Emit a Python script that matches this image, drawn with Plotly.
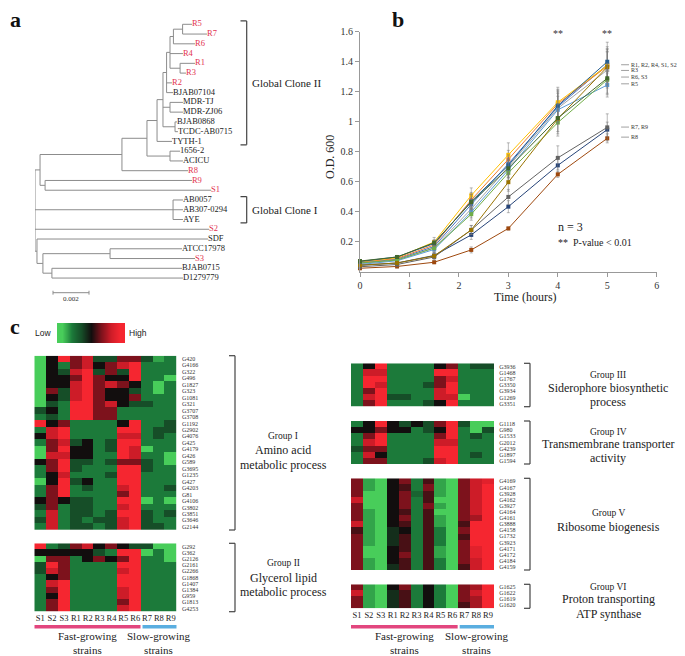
import plotly.graph_objects as go

# The page body has an 8 px margin: all positions below are given in reference pixels
# and converted into the 677x648 figure that starts at (8, 8).
OFF = 8
W, H = 685 - OFF, 656 - OFF
def fx(px): return (px - OFF) / W
def fy(py): return 1 - (py - OFF) / H

SERIF = "Liberation Serif, Times New Roman, serif"
SANS = "Liberation Sans, Arial, sans-serif"
RED = "#e2334f"

# ---------------- Panel a : phylogenetic tree ----------------
leaf_names = ["R5", "R7", "R6", "R4", "R1", "R3", "R2", "BJAB07104", "MDR-TJ", "MDR-ZJ06",
              "BJAB0868", "TCDC-AB0715", "TYTH-1", "1656-2", "ACICU", "R8", "R9", "S1",
              "AB0057", "AB307-0294", "AYE", "S2", "SDF", "ATCC17978", "S3", "BJAB0715", "D1279779"]
internal_names = ["root", "nA", "nB", "nC", "nH", "nI", "nJ", "nK", "nL", "nM", "nP", "nT", "nQ",
                  "nN", "nO", "nGC1", "nD", "nE", "nF", "nG"]
internal_parents = [None, "root", "nA", "nA", "nB", "nH", "nH", "nI", "nK", "nL", "nM", "nP", "nM",
                    "nK", "nK", "root", "root", "nD", "nE", "nE"]
internal_depths = [0.0, 0.00028, 0.00483, 0.00056, 0.00622, 0.00678, 0.0075, 0.00711, 0.00731,
                   0.0075, 0.00769, 0.0082, 0.00806, 0.0075, 0.00778, 0.00767, 0.00011, 0.00044,
                   0.00417, 0.00094]
leaf_parents = ["nT", "nT", "nP", "nM", "nQ", "nQ", "nL", "nL", "nN", "nN", "nO", "nO", "nI", "nJ",
                "nJ", "nB", "nC", "nC", "nGC1", "nGC1", "nGC1", "root", "nD", "nF", "nF", "nG", "nG"]
leaf_depths = [0.00872, 0.00956, 0.00889, 0.00822, 0.00889, 0.00839, 0.00761, 0.00767, 0.00822,
               0.00822, 0.00789, 0.00794, 0.00761, 0.00806, 0.00822, 0.0085, 0.00872, 0.00978,
               0.00822, 0.00822, 0.00822, 0.00967, 0.00961, 0.00817, 0.00889, 0.00817, 0.00822]
clade_names = ["Global Clone II", "Global Clone I"]
clade_first = ["R5", "AB0057"]
clade_last = ["TYTH-1", "AYE"]
scale_bar_length = 0.002

# ---------------- Panel b : growth curves ----------------
time_h = [0, 0.75, 1.5, 2.25, 3, 4, 5]
strains = ["R1", "R2", "R3", "R4", "R5", "R6", "R7", "R8", "R9", "S1", "S2", "S3"]
strain_colors = ["#4472C4", "#ED7D31", "#A5A5A5", "#FFC000", "#5B9BD5", "#70AD47",
                 "#264478", "#9E480E", "#636363", "#997300", "#255E91", "#43682B"]
od_values = [
    [0.060, 0.085, 0.170, 0.450, 0.720, 1.100, 1.380],
    [0.065, 0.090, 0.180, 0.480, 0.750, 1.120, 1.370],
    [0.055, 0.080, 0.160, 0.420, 0.700, 1.090, 1.345],
    [0.070, 0.095, 0.200, 0.510, 0.780, 1.130, 1.375],
    [0.050, 0.075, 0.150, 0.400, 0.680, 1.080, 1.245],
    [0.060, 0.080, 0.160, 0.385, 0.660, 0.995, 1.280],
    [0.045, 0.060, 0.110, 0.247, 0.435, 0.710, 0.948],
    [0.025, 0.037, 0.065, 0.147, 0.290, 0.650, 0.890],
    [0.035, 0.050, 0.100, 0.280, 0.500, 0.760, 0.963],
    [0.045, 0.060, 0.107, 0.280, 0.598, 1.020, 1.365],
    [0.070, 0.100, 0.190, 0.470, 0.710, 1.107, 1.400],
    [0.073, 0.100, 0.195, 0.465, 0.690, 1.025, 1.290],
]
od_err = [
    [0.01, 0.01, 0.02, 0.05, 0.07, 0.10, 0.12],
    [0.01, 0.01, 0.02, 0.05, 0.06, 0.09, 0.10],
    [0.01, 0.01, 0.02, 0.04, 0.07, 0.10, 0.12],
    [0.01, 0.01, 0.03, 0.05, 0.08, 0.10, 0.11],
    [0.01, 0.01, 0.02, 0.04, 0.06, 0.09, 0.08],
    [0.01, 0.01, 0.02, 0.04, 0.06, 0.09, 0.10],
    [0.01, 0.01, 0.02, 0.03, 0.04, 0.05, 0.05],
    [0.01, 0.01, 0.01, 0.02, 0.01, 0.02, 0.03],
    [0.01, 0.01, 0.02, 0.03, 0.05, 0.08, 0.09],
    [0.01, 0.01, 0.02, 0.03, 0.06, 0.10, 0.12],
    [0.01, 0.01, 0.02, 0.05, 0.07, 0.11, 0.13],
    [0.01, 0.01, 0.02, 0.05, 0.06, 0.09, 0.10],
]
end_labels = ["R1, R2, R4, S1, S2", "R3", "R6, S3", "R5", "R7, R9", "R8"]
end_label_y = [1.38, 1.342, 1.298, 1.253, 0.965, 0.898]
signif_times = [4, 5]

# ---------------- Panel c : heatmaps ----------------
heat_strains = ["S1", "S2", "S3", "R1", "R2", "R3", "R4", "R5", "R6", "R7", "R8", "R9"]
grp1_genes = ["G420", "G4166", "G322", "G496", "G1827", "G323", "G1081", "G321", "G3707", "G3708",
              "G1192", "G2902", "G4076", "G425", "G4179", "G426", "G589", "G3695", "G1235", "G427",
              "G4203", "G81", "G4106", "G3802", "G3851", "G3646", "G2144"]
grp1_values = [
    [-3, 0, 3, 1, 2, -1, -1, 1, 1, -1, -2.5, -2],
    [-3, 0, -2, 1, 2, 0, 1, 2, 3, -2, -2, -2],
    [-3, 0, -1, 2, 3, -1, 1, -1, 3, -2, -2, -2],
    [-3, 0, 0, 1, 3, 1, 0, 0, 3, -2, -2, -3],
    [-3, 0, 0, 2, 3, 1, 2, 1, 0, -2, -3, -2],
    [-3, 1, -1, 2, 3, 1, 0, 0, -1, -2, -3, -2],
    [-3, 0, -1, 2, 3, 1, 0, 0, 1, -2, -2, -2],
    [-3, -1, -2, 3, 3, 1, 2, 0, -1, -1, -2, -2],
    [-1, 0, -2, 3, 3, 1, 1, -2, -2, -2, -2, -2],
    [-2, -1, -2, 3, 3, 1, 1, -2, -2, -2, -2, -2],
    [3, 0, 1, -2, -2, -2, -2, 0, 3, -2, -2, -1],
    [-2, 2, 3, -2, -2, -2, -2, 3, 3, -2, -1, -1],
    [0, 2, 3, -2, -2, -2, -2, 2, 2, -2, -1, -2],
    [-2, 1, 2, -1, 0, -2, -1, 3, 3, -2, -2, -2],
    [-3, 1, 3, 0, 0, -2, -1, 3, 2, -3, -2, -2],
    [-3, 2, 2, 0, 0, -2, -2, 3, 2, -2, -2, -3],
    [0, 1, 3, -1, -1, -2, -1, 1, 1, -1, -2, -3],
    [-2, 1, 3, -1, -2, -2, -2, 3, 3, -1, -2, -2],
    [-2, 0, 2, -2, -2, -2, -1, 3, 3, -2, -2, -2],
    [-3, 0, 3, -1, 0, -2, -2, 3, 3, -2, -2, -2],
    [-2, 1, 3, -2, -1, -2, -2, 2, 3, -2, -2, -1],
    [-2, 1, 3, -2, -2, -2, -2, 1, 3, -2, -2, -2],
    [0, 1, 0, -1, -1, -2, -2, 3, 3, -3, -2, -3],
    [-1, 1, -2, -1, -1, -2, -2, 2, 3, -2, -2, -2],
    [-2, 2, -2, -1, -1, -2, -1, 3, 3, -1, -2, -1],
    [-1, 2, -2, -1, -2, -1, -1, 2, 3, -1, -2, -2],
    [-2, 2, -2, -1, -1, -2, -1, 2, 3, -1, -1, -2],
]
grp2_genes = ["G292", "G362", "G2126", "G2161", "G2266", "G1868", "G1407", "G1384", "G959", "G1813", "G4253"]
grp2_values = [
    [3, -2, -1, 1, 2, 0, 1, 0, -1, -1, -3, -3],
    [0, 0, 0, 0, 0, -1, -2, 3, 3, -3, -2, -3],
    [-3, 1, 1, -2, 0, 1, 0, 1, 3, -2, -2, -3],
    [-1, 3, 1, -2, -2, -2, -2, 3, 3, -2, -2, -2],
    [-1, 2, 1, -2, -2, -2, -2, 2, 3, -2, -2, -2],
    [-2, 0, 1, -2, -2, -2, -2, 3, 3, -2, -2, -2],
    [-2, 2, 3, -2, -2, -2, -2, 3, 3, -2, -2, -2],
    [-2, 1, 3, -2, -2, -2, -2, 2, 3, -2, -2, -2],
    [-2, 0, 3, -2, -2, -2, -2, 2, 3, -2, -2, -2],
    [-2, 1, 3, -2, -2, -2, -2, 1, 3, -2, -2, -2],
    [-2, 1, 3, -2, -2, -2, -2, 2, 3, -2, -2, -2],
]
grp3_genes = ["G3936", "G1468", "G1767", "G3350", "G3934", "G1269", "G3351"]
grp3_values = [
    [-2, 0, 3, -2, -2, -2, -2, 0, 1, -2, -1, -1],
    [-2, 2, 2, -2, -2, -2, -2, 3, 3, -2, -2, -2],
    [-2, 3, 3, -2, -2, -2, -2, 1, 2, -2, -2, -2],
    [-2, 3, 2, -2, -2, -2, -1, 1, 3, -2, -2, -2],
    [-2, 1, 3, -2, -2, -2, -2, 2, 3, -2, -2, -2],
    [-2, 2, 3, -1, -1, -2, -2, 2, 2, -3, -2, -2],
    [-2, 1, 3, -2, -2, -2, -1, 0, 3, -2, -2, -2],
]
grp4_genes = ["G1118", "G980", "G1533", "G2012", "G4239", "G1897", "G1594"]
grp4_values = [
    [-2, 0, 3, 0, -1, 0, -1, 1, 3, -1, -3, -3],
    [0, 0, 1, 0, 0, -2, -1, 0, 3, -2, -3, -1],
    [-2, 1, 3, -2, -2, -2, -2, 1, 3, -2, -1, -2],
    [-2, 2, 3, -2, -2, -2, -2, 2, 2, -2, -2, -2],
    [-1, 1, 1, -2, -2, -2, -2, 3, 3, -2, -2, -2],
    [-2, 2, 0, -2, -2, -2, -2, 3, 3, -2, -1, -2],
    [-2, 1, 1, -2, -2, -2, -1, 2, 3, -2, -2, -2],
]
grp5_genes = ["G4169", "G4167", "G3928", "G4162", "G3927", "G4164", "G4161", "G3888", "G4158",
              "G1732", "G3923", "G4171", "G4172", "G4184", "G4159"]
grp5_values = [
    [1, -2.5, -3, 0, 1, -2, 0.5, -2.5, -3, 1, 2, 2.5],
    [1, -2.5, -3, 0, 0.5, -2, 1, -2.5, -3, 1, 2, 3],
    [1, -3, -3, 0, 1, -1.5, 0.5, -2.5, -3, 1, 2, 3],
    [2, -3, -3, 0, 1, -2, 0.5, -3, -3, 1, 2, 3],
    [1, -3, -3, 0, 1, -2, 1, -2.5, -3, 1, 2, 3],
    [1, -2.5, -3, 0, 0.5, -2, 0.5, -3, -3, 1, 2, 3],
    [1, -2.5, -3, 0, 1, -2, 0.5, -2.5, -3, 1, 1.5, 3],
    [2, -2.5, -3, 0, 0.5, -2, 0.5, -2.5, -3, 0.5, 3, 3],
    [0.5, -2.5, -3, -0.5, 0, -2, 0.5, -2, -3, 1, 3, 3],
    [1, -2.5, -3, -0.5, 0.5, -2, 0.5, -2, -3, 0.5, 3, 3],
    [1, -2.5, -3, -0.5, 0.5, -2, 0.5, -2, -3, 1, 3, 3],
    [1, -3, -3, 0, 0.5, -2, 0.5, -2.5, -3, 1, 2.5, 3],
    [1, -3, -3, 0, 1, -2, 0.5, -2.5, -3, 1, 2.5, 3],
    [1, -2.5, -3, 0, 0.5, -2, 0.5, -2, -3, 1, 2, 3],
    [1, -2.5, -3, -0.5, 0.5, -2, 0.5, -2, -3, 0.5, 2, 3],
]
grp6_genes = ["G1625", "G1622", "G1619", "G1620"]
grp6_values = [
    [1, -2.5, -3, 0, 1, -2, 0, -2, -3, 1, 1.5, 3],
    [2, -2.5, -3, -0.5, 0.5, -2, 0, -2, -3, 1, 2, 3],
    [1, -2.5, -3, -0.5, 0.5, -2, 0, -2, -3, 1, 1.5, 3],
    [1, -2.5, -3, -0.5, 0.5, -2, 0, -2, -3, 0.5, 1.5, 3],
]
colorbar_levels = [-3, -2, -1, 0, 1, 2, 3]
fast_strains = ["S1", "S2", "S3", "R1", "R2", "R3", "R4", "R5", "R6"]
slow_strains = ["R7", "R8", "R9"]

heat_colorscale = [[0, "rgb(72,205,90)"], [1 / 6, "rgb(28,122,58)"], [2 / 6, "rgb(22,78,40)"],
                   [0.5, "rgb(18,14,14)"], [4 / 6, "rgb(125,18,28)"], [5 / 6, "rgb(205,28,40)"],
                   [1, "rgb(245,38,48)"]]

fig = go.Figure()
annotations = []
shapes = []

def ann(x, y, text, size, family=SERIF, xref="paper", yref="paper", xanchor="center",
        color="#222", **kw):
    annotations.append(dict(x=x, y=y, xref=xref, yref=yref, text=text, showarrow=False,
                            xanchor=xanchor, yanchor="middle", borderpad=0,
                            font=dict(family=family, size=size, color=color), **kw))

# ---- tree ----
node_names = internal_names + leaf_names
node_parents = internal_parents + leaf_parents
depth = dict(zip(node_names, internal_depths + leaf_depths))
children = {}
for n, p in zip(node_names, node_parents):
    if p is not None:
        children.setdefault(p, []).append(n)
ypos = {name: i for i, name in enumerate(leaf_names)}

def get_y(n):
    if n in ypos:
        return ypos[n]
    ys = [get_y(c) for c in children[n]]
    ypos[n] = (min(ys) + max(ys)) / 2
    return ypos[n]

get_y("root")
lx, ly = [], []
for n, p in zip(node_names, node_parents):
    if p is not None:
        lx += [depth[p], depth[n], None]
        ly += [ypos[n], ypos[n], None]
    if n in children:
        ys = [ypos[c] for c in children[n]]
        lx += [depth[n], depth[n], None]
        ly += [min(ys), max(ys), None]
fig.add_trace(go.Scatter(x=lx, y=ly, mode="lines", line=dict(color="#8c8c8c", width=1),
                         xaxis="x", yaxis="y", hoverinfo="skip", showlegend=False))
leaf_colors = [RED if (n[0] in "RS" and len(n) == 2) else "#222" for n in leaf_names]
fig.add_trace(go.Scatter(x=[depth[n] for n in leaf_names], y=list(range(len(leaf_names))),
                         mode="text", text=leaf_names, textposition="middle right",
                         textfont=dict(family=SERIF, size=8.5, color=leaf_colors),
                         cliponaxis=False, xaxis="x", yaxis="y", hoverinfo="skip", showlegend=False))
sb_y = len(leaf_names) + 0.5
sb_x0 = 0.001
fig.add_trace(go.Scatter(x=[sb_x0, sb_x0 + scale_bar_length, None, sb_x0, sb_x0, None,
                            sb_x0 + scale_bar_length, sb_x0 + scale_bar_length],
                         y=[sb_y, sb_y, None, sb_y - 0.2, sb_y + 0.2, None, sb_y - 0.2, sb_y + 0.2],
                         mode="lines", line=dict(color="#8c8c8c", width=1), cliponaxis=False,
                         xaxis="x", yaxis="y", hoverinfo="skip", showlegend=False))
ann(sb_x0 + scale_bar_length / 2, sb_y + 0.6, str(scale_bar_length), 7, xref="x", yref="y",
    color="#333")
for name, a, b in zip(clade_names, clade_first, clade_last):
    y0, y1 = ypos[a] - 0.35, ypos[b] + 0.35
    for seg in [(246.7, y0, 246.7, y1), (240.5, y0, 246.7, y0), (240.5, y1, 246.7, y1)]:
        shapes.append(dict(type="line", xref="paper", yref="y", x0=fx(seg[0]), y0=seg[1],
                           x1=fx(seg[2]), y1=seg[3], line=dict(color="#444", width=1.2)))
    ann(fx(251), (ypos[a] + ypos[b]) / 2, name, 11, yref="y", xanchor="left")

# ---- growth curves ----
for s, c, vals, err in zip(strains, strain_colors, od_values, od_err):
    fig.add_trace(go.Scatter(x=time_h, y=vals, mode="lines+markers", name=s,
                             line=dict(color=c, width=1),
                             marker=dict(symbol="square", size=4, color=c),
                             error_y=dict(type="data", array=err, color="rgba(120,120,120,0.75)",
                                          thickness=0.7, width=1.5),
                             cliponaxis=False, xaxis="x2", yaxis="y2", showlegend=False))
lead_x, lead_y = [], []
for yv in end_label_y:
    lead_x += [5.28, 5.44, None]
    lead_y += [yv, yv, None]
fig.add_trace(go.Scatter(x=lead_x, y=lead_y, mode="lines", line=dict(color="#888", width=0.8),
                         cliponaxis=False, xaxis="x2", yaxis="y2", hoverinfo="skip", showlegend=False))
for lab, yv in zip(end_labels, end_label_y):
    ann(5.47, yv, lab, 6, xref="x2", yref="y2", xanchor="left", color="#333")
for t in signif_times:
    ann(t, 1.585, "**", 10, xref="x2", yref="y2", color="#333")
ann(3.98, 0.30, "n = 3", 12, xref="x2", yref="y2", xanchor="left")
ann(3.98, 0.197, "**  P-value < 0.01", 10, xref="x2", yref="y2", xanchor="left")
ann(fx(330), fy(157), "O.D. 600", 12, textangle=-90)
ann(fx(525), fy(297), "Time (hours)", 12)

# ---- heatmaps ----
heat_groups = [
    (grp1_genes, grp1_values, 3, (34.3, 176.7), (355.7, 530.0), False, 235, 283,
     ["Group I", "Amino acid", "metabolic process"], [436, 450, 465]),
    (grp2_genes, grp2_values, 4, (34.3, 176.7), (543.3, 611.7), True, 235, 283,
     ["Group II", "Glycerol lipid", "metabolic process"], [563, 578, 592]),
    (grp3_genes, grp3_values, 5, (351.0, 494.0), (363.3, 406.7), False, 530, 608,
     ["Group III", "Siderophore biosynthetic", "process"], [375, 388, 402]),
    (grp4_genes, grp4_values, 6, (351.0, 494.0), (421.0, 464.0), False, 530, 608,
     ["Group IV", "Transmembrane transporter", "activity"], [432, 444, 458]),
    (grp5_genes, grp5_values, 7, (351.0, 494.0), (478.3, 570.0), False, 530, 608,
     ["Group V", "Ribosome biogenesis"], [513, 527]),
    (grp6_genes, grp6_values, 8, (351.0, 494.0), (584.3, 608.3), True, 530, 608,
     ["Group VI", "Proton transporting", "ATP synthase"], [587, 599, 614]),
]
axes_layout = {}
for genes, vals, k, (xl, xr), (yt, yb), bottom, brx, txc, texts, tys in heat_groups:
    fig.add_trace(go.Heatmap(z=vals, x=list(range(len(heat_strains))), y=list(range(len(genes))),
                             colorscale=heat_colorscale, zmin=-3, zmax=3, showscale=False,
                             xaxis=f"x{k}", yaxis=f"y{k}", hoverinfo="skip"))
    axes_layout[f"xaxis{k}"] = dict(domain=[fx(xl), fx(xr)], anchor=f"y{k}", range=[-0.5, 11.5],
                                    showgrid=False, zeroline=False, showline=False, ticks="",
                                    tickvals=list(range(len(heat_strains))) if bottom else [],
                                    ticktext=heat_strains if bottom else [],
                                    showticklabels=bottom, tickangle=0, automargin=False,
                                    tickfont=dict(family=SERIF, size=8.5, color="#222"))
    axes_layout[f"yaxis{k}"] = dict(domain=[fy(yb), fy(yt)], anchor=f"x{k}",
                                    range=[len(genes) - 0.5, -0.5], side="right",
                                    tickvals=list(range(len(genes))), ticktext=genes,
                                    ticks="outside", ticklen=3, tickcolor="rgba(0,0,0,0)",
                                    showgrid=False, zeroline=False, showline=False,
                                    automargin=False,
                                    tickfont=dict(family=SERIF, size=6, color="#333"))
    y0, y1 = fy(yt), fy(yb)
    for seg in [(brx, y0, brx, y1), (brx - 6, y0, brx, y0), (brx - 6, y1, brx, y1)]:
        shapes.append(dict(type="line", xref="paper", yref="paper", x0=fx(seg[0]), y0=seg[1],
                           x1=fx(seg[2]), y1=seg[3], line=dict(color="#444", width=1.2)))
    for i, (tx, ty) in enumerate(zip(texts, tys)):
        ann(fx(txc), fy(ty), tx, 9.5 if i == 0 else 12)
    if bottom:
        nf = len(fast_strains)
        shapes.append(dict(type="rect", xref=f"x{k}", yref="paper", x0=-0.5, x1=nf - 0.55,
                           y0=fy(628.5), y1=fy(625), fillcolor="#e2467e", line=dict(width=0)))
        shapes.append(dict(type="rect", xref=f"x{k}", yref="paper", x0=nf - 0.38,
                           x1=nf + len(slow_strains) - 0.5,
                           y0=fy(628.5), y1=fy(625), fillcolor="#5aaee0", line=dict(width=0)))
        ann((nf - 1) / 2, fy(643), "Fast-growing<br>strains", 11, xref=f"x{k}")
        ann(nf + (len(slow_strains) - 1) / 2, fy(643), "Slow-growing<br>strains", 11, xref=f"x{k}")

# colour key
fig.add_trace(go.Heatmap(z=[colorbar_levels], colorscale=heat_colorscale, zmin=-3, zmax=3,
                         zsmooth="best", showscale=False, xaxis="x9", yaxis="y9", hoverinfo="skip"))
axes_layout["xaxis9"] = dict(domain=[fx(57), fx(125)], anchor="y9", visible=False)
axes_layout["yaxis9"] = dict(domain=[fy(343), fy(323)], anchor="x9", visible=False)
ann(fx(43), fy(333), "Low", 8.5, family=SANS)
ann(fx(138), fy(333), "High", 8.5, family=SANS)

# panel letters
for letter, (px_, py_) in zip(["a", "b", "c"], [(15, 20), (398, 20), (15, 326)]):
    ann(fx(px_), fy(py_), f"<b>{letter}</b>", 22, color="#111")

n_leaves = len(leaf_names)
spacing = 9.76
fig.update_layout(
    width=W, height=H, margin=dict(l=0, r=0, t=0, b=0, autoexpand=False),
    paper_bgcolor="white", plot_bgcolor="white", showlegend=False,
    xaxis=dict(domain=[fx(35), fx(35 + 0.0125 * 18000)], range=[0, 0.0125], anchor="y",
               visible=False),
    yaxis=dict(domain=[fy(24.3 + (n_leaves + 1.5) * spacing), fy(24.3 - 0.5 * spacing)],
               range=[n_leaves + 1.5, -0.5], anchor="x", visible=False),
    xaxis2=dict(domain=[fx(360), fx(656.7)], range=[0, 6], anchor="y2",
                tickvals=[0, 1, 2, 3, 4, 5, 6], showgrid=False, zeroline=False,
                showline=True, linecolor="#999", linewidth=1, ticks="outside", ticklen=4,
                tickcolor="#999", automargin=False,
                tickfont=dict(family=SERIF, size=10, color="#333")),
    yaxis2=dict(domain=[fy(272), fy(31.7)], range=[0, 1.6], anchor="x2",
                tickvals=[0.2, 0.4, 0.6, 0.8, 1.0, 1.2, 1.4, 1.6],
                ticktext=["0.2", "0.4", "0.6", "0.8", "1", "1.2", "1.4", "1.6"],
                showgrid=False, zeroline=False, showline=True, linecolor="#999", linewidth=1,
                ticks="outside", ticklen=4, tickcolor="#999", automargin=False,
                tickfont=dict(family=SERIF, size=10, color="#333")),
    annotations=annotations, shapes=shapes,
    **axes_layout,
)
fig.write_html("out.html")
